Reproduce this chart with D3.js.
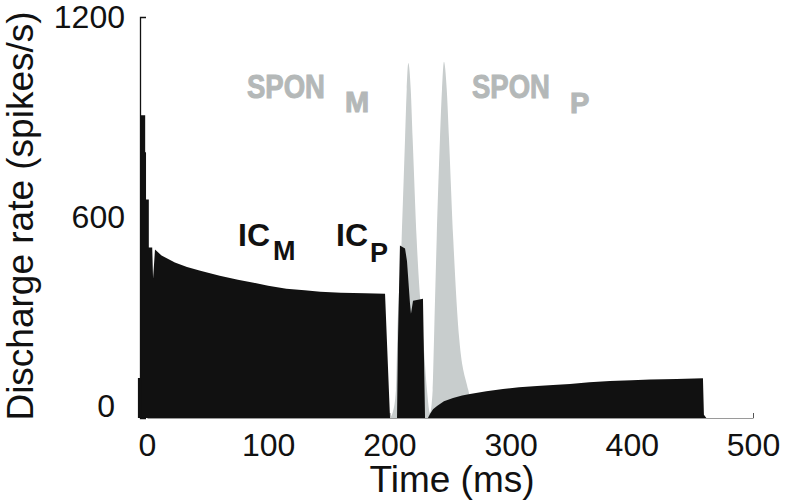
<!DOCTYPE html>
<html>
<head>
<meta charset="utf-8">
<script src="https://cdn.jsdelivr.net/npm/d3@7/dist/d3.min.js"></script>
<style>
  html, body { margin: 0; padding: 0; background: #fff; }
  svg { display: block; font-family: "Liberation Sans", Arial, sans-serif; }
</style>
</head>
<body>
<svg id="chart" width="786" height="501"></svg>
<script>
// ---- data ----
const xTicks = [0, 100, 200, 300, 400, 500];
const yTicks = [0, 600, 1200];

// IC response (black): time (ms) and discharge rate (spikes/s)
const timeIC = [-7.5, -7.5, -5, -5, -1.5, -1.5, -0.8, -0.8, 1.5, 1.5, 4.3, 5, 6.6,
  12, 23, 33, 44, 52, 60, 75, 88, 100, 115, 130, 143, 160, 180, 196.4,
  200.5, 206.3, 207, 208.7, 212.9, 214.5, 217, 217.8, 219.5, 227.7, 229.4,
  231.8, 233.5, 236, 239.3, 245, 252.5, 260, 266.5, 280, 293.7, 307, 321.8,
  335, 349, 365, 382, 400, 415, 437, 458.7, 459.5, 461.5, 500];
const rateIC = [0, 120, 120, 906, 906, 795, 795, 654, 654, 510, 510, 417, 504,
  486, 465, 452, 441, 433, 426, 414, 405, 396, 387, 382, 378, 375, 373, 372,
  0, 0, 220, 516, 507, 470, 342, 312, 351, 357, 0,
  0, 12, 26, 36, 50, 60, 67, 72, 80, 87, 92, 96,
  99, 102, 107, 111, 113, 115, 117, 119, 10, 0, 0];

// SPON response (grey)
const timeSPON = [195, 200, 203, 205.4, 206.5, 210.1, 212.9, 214.3, 215.6,
  217.6, 219.2, 222.5, 228, 231, 233.5, 235.7, 236.8, 239, 241.7, 243.4, 245,
  247.3, 249.2, 252.7, 257.7, 265.1, 269, 273];
const rateSPON = [0, 0, 20, 84, 234, 534, 834, 984, 1062,
  984, 834, 534, 234, 84, 15, 84, 234, 534, 834, 984, 1066,
  984, 834, 534, 234, 84, 25, 0];

// ---- layout ----
const svg = d3.select("#chart");
const x = d3.scaleLinear().domain([0, 500]).range([147, 753]);
const y = d3.scaleLinear().domain([0, 1200]).range([418, 17]);

const black = "#111111";
const grey = "#c8cdcd";
const greyText = "#b4b8b8";

// x axis (drawn first, marks cover it)
const xAxis = svg.append("g")
  .attr("transform", `translate(0,${y(0)})`)
  .call(d3.axisBottom(x).tickValues(xTicks).tickFormat(d3.format("d"))
    .tickSizeInner(-5).tickSizeOuter(0).tickPadding(15));
xAxis.select(".domain").attr("stroke", "#9a9a9a").attr("stroke-width", 1.2);
xAxis.selectAll(".tick line").attr("stroke", "#555");
xAxis.selectAll(".tick text")
  .attr("font-size", 32).attr("fill", "#111")
  .attr("font-family", "Liberation Sans, Arial, sans-serif");

// areas
const area = d3.area()
  .x(d => x(d[0]))
  .y0(y(0))
  .y1(d => y(d[1]));

svg.append("path")
  .datum(timeSPON.map((t, i) => [t, rateSPON[i]]))
  .attr("fill", grey)
  .attr("d", area.curve(d3.curveMonotoneX));

svg.append("path")
  .datum(timeIC.map((t, i) => [t, rateIC[i]]))
  .attr("fill", black)
  .attr("d", area.curve(d3.curveLinear));

// y axis
const yAxis = svg.append("g")
  .attr("transform", "translate(140,0)")
  .call(d3.axisLeft(y).tickValues(yTicks).tickFormat(d3.format("d"))
    .tickSizeInner(0).tickSizeOuter(-6).tickPadding(15));
yAxis.select(".domain").attr("stroke", "#111").attr("stroke-width", 1.3);
yAxis.selectAll(".tick text")
  .attr("font-size", 32).attr("fill", "#111")
  .attr("font-family", "Liberation Sans, Arial, sans-serif");
yAxis.selectAll(".tick text").filter(d => d === 0)
  .attr("dx", -10).attr("dy", "-0.05em");

// axis titles
svg.append("text")
  .attr("x", 452).attr("y", 492)
  .attr("text-anchor", "middle")
  .attr("font-size", 37).attr("fill", "#111")
  .text("Time (ms)");

svg.append("text")
  .attr("transform", "translate(33,216) rotate(-90)")
  .attr("text-anchor", "middle")
  .attr("font-size", 37).attr("fill", "#111")
  .text("Discharge rate (spikes/s)");

// series labels
function subLabel(main, sub, xMain, yBase, xSub, ySub, size, subSize, color, sw, len) {
  const t = svg.append("text")
    .attr("font-weight", "bold").attr("fill", color)
    .attr("stroke", color).attr("stroke-width", sw);
  const m = t.append("tspan").attr("x", xMain).attr("y", yBase)
    .style("font-size", size + "px").text(main);
  if (len) m.attr("textLength", len).attr("lengthAdjust", "spacingAndGlyphs");
  t.append("tspan").attr("x", xSub).attr("y", ySub)
    .style("font-size", subSize + "px").text(sub);
}
subLabel("IC", "M", 238, 246, 273, 260, 32, 27, "#111", 0, null);
subLabel("IC", "P", 336, 246, 370, 262, 32, 27, "#111", 0, null);
subLabel("SPON", "M", 247, 98, 345, 112, 33, 29, greyText, 1, 78);
subLabel("SPON", "P", 472, 98, 570, 113, 33, 29, greyText, 1, 78);
</script>
</body>
</html>
